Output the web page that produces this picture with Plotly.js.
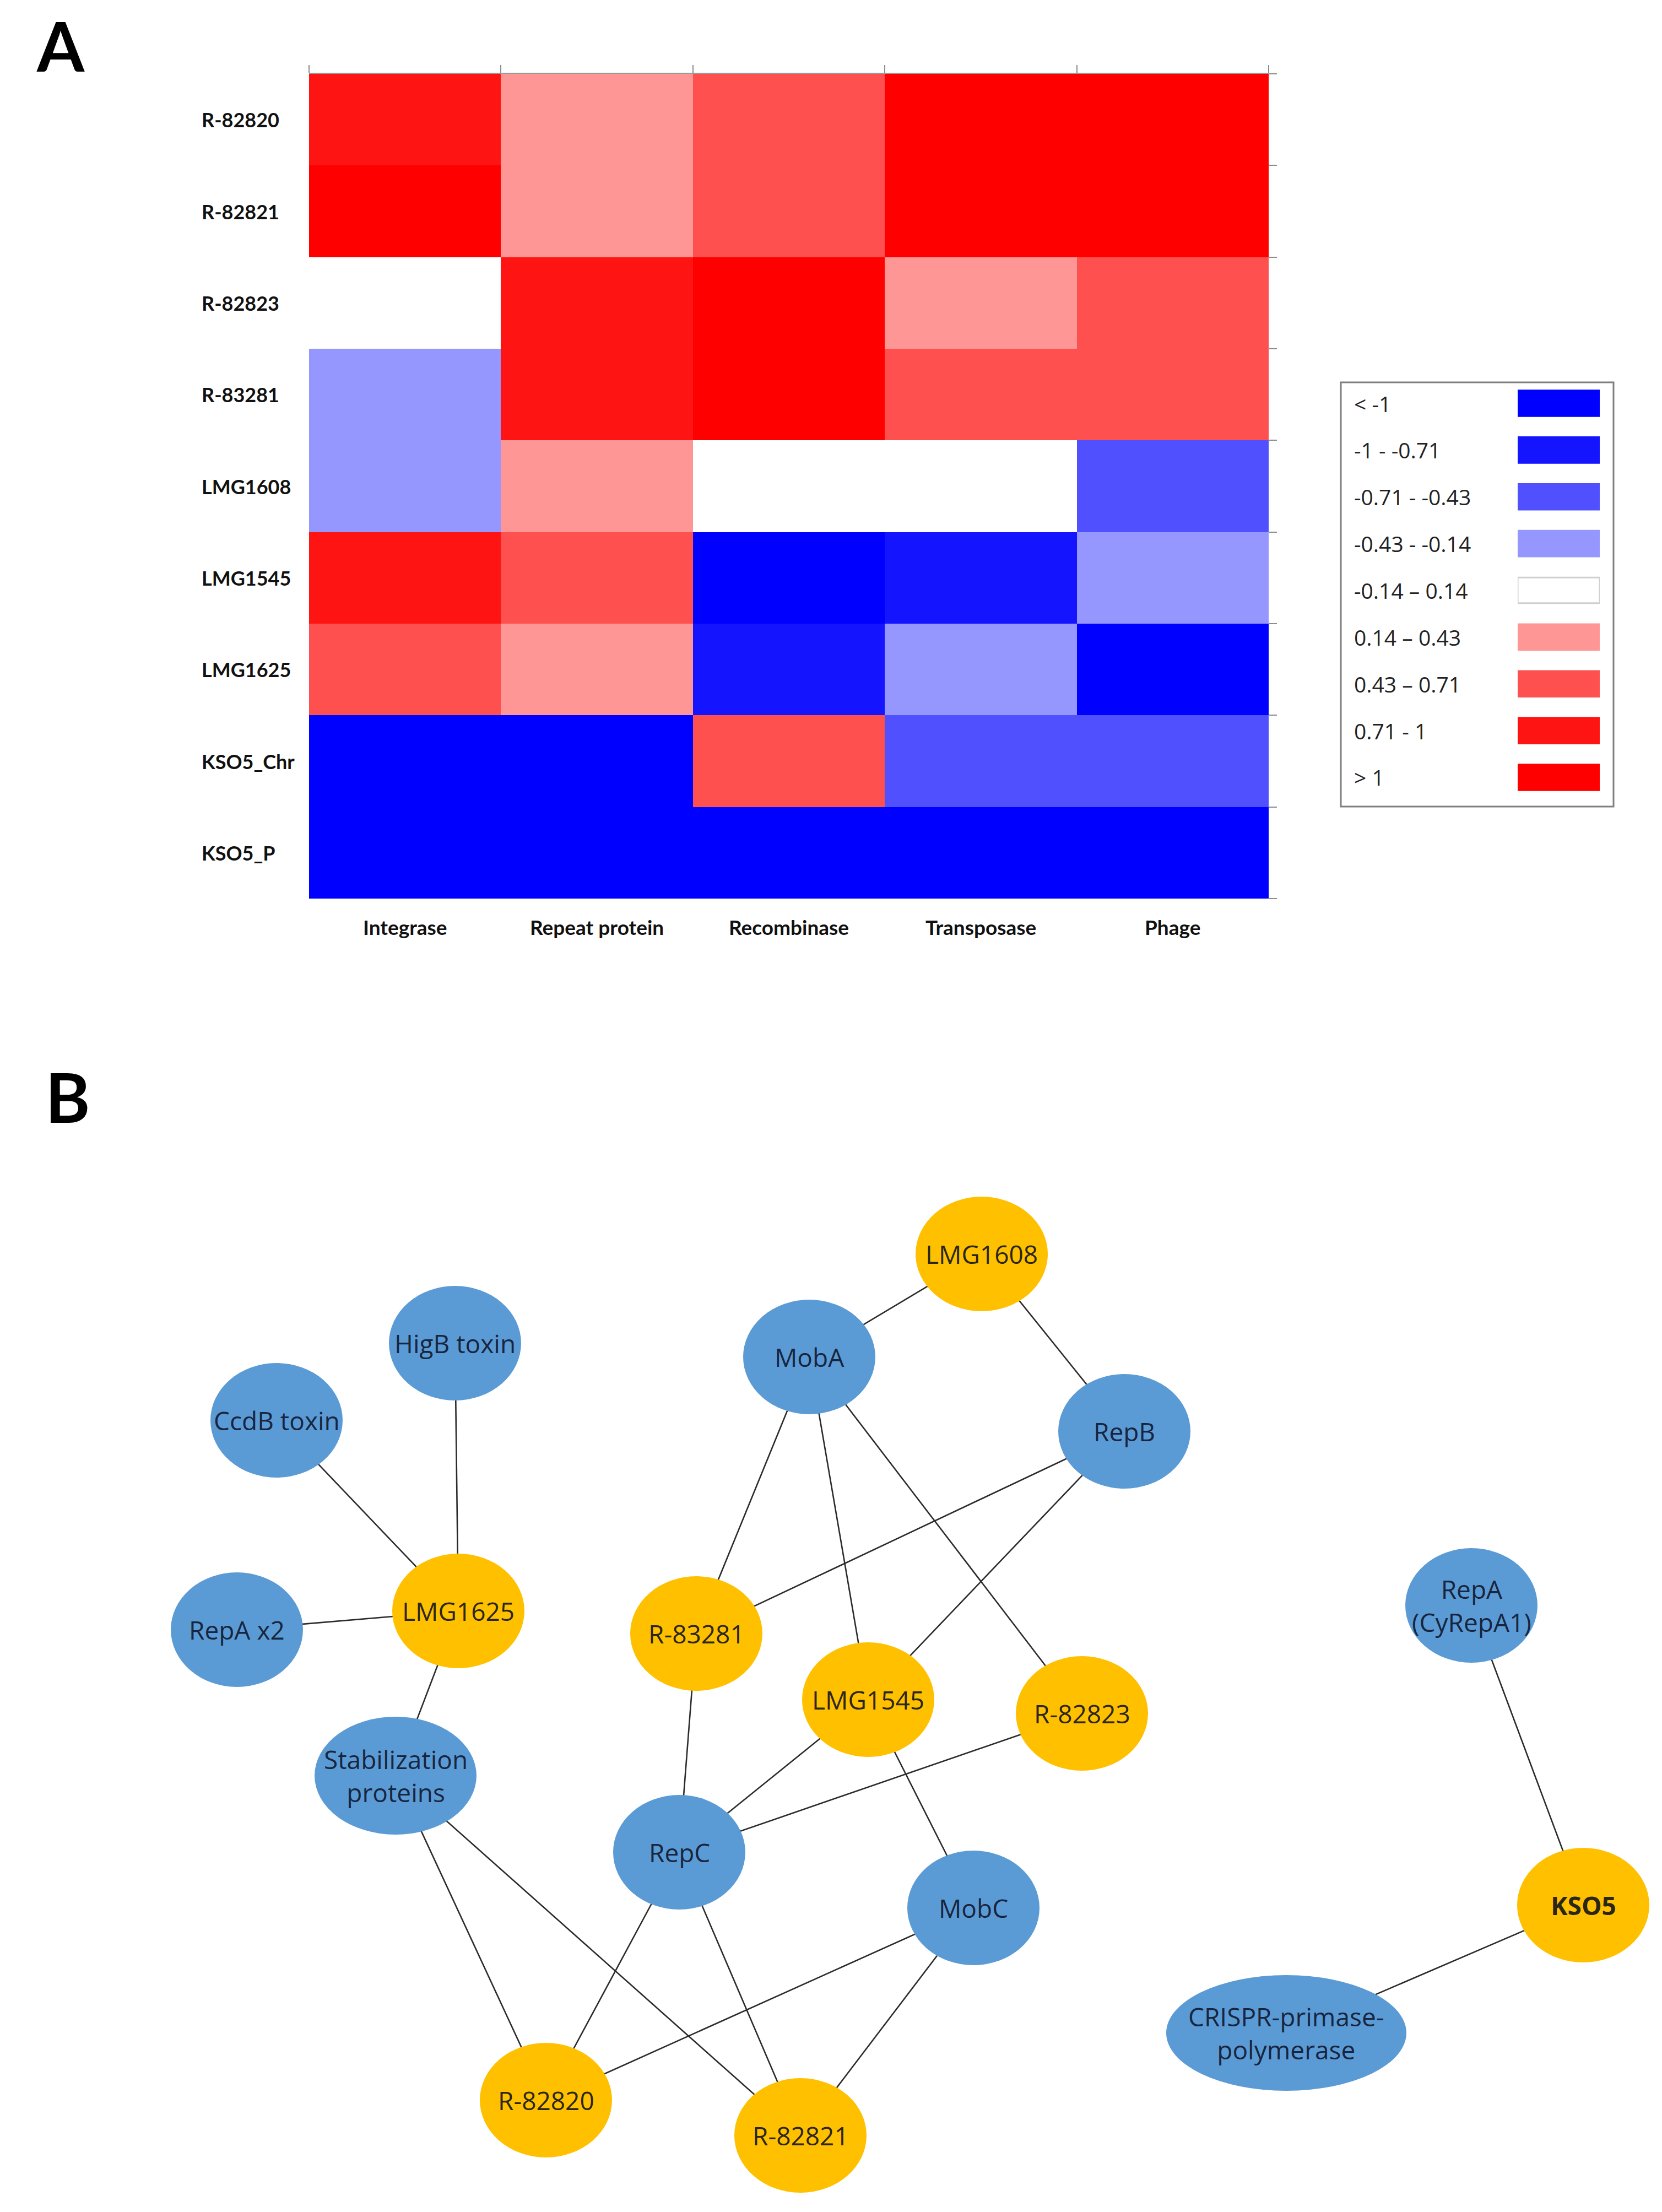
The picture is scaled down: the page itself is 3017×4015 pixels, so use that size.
<!DOCTYPE html>
<html>
<head>
<meta charset="utf-8">
<script src="https://cdn.plot.ly/plotly-3.0.1.min.js"></script>
<style>html,body{margin:0;padding:0;background:#fff;}#chart{width:3017px;height:4015px;}</style>
</head>
<body>
<div id="chart"></div>
<script>
// ---------- Panel A data ----------
const columns = ['Integrase', 'Repeat protein', 'Recombinase', 'Transposase', 'Phage'];
const rows = ['R-82820', 'R-82821', 'R-82823', 'R-83281', 'LMG1608', 'LMG1545', 'LMG1625', 'KSO5_Chr', 'KSO5_P'];
const zR82820 = [0.86, 0.30, 0.60, 1.20, 1.15];
const zR82821 = [1.10, 0.28, 0.55, 1.25, 1.20];
const zR82823 = [0.02, 0.90, 1.10, 0.30, 0.58];
const zR83281 = [-0.30, 0.88, 1.15, 0.55, 0.60];
const zLMG1608 = [-0.32, 0.25, 0.05, -0.03, -0.60];
const zLMG1545 = [0.90, 0.50, -1.10, -0.85, -0.25];
const zLMG1625 = [0.60, 0.30, -0.80, -0.30, -1.20];
const zKSO5Chr = [-1.30, -1.25, 0.50, -0.55, -0.60];
const zKSO5P = [-1.40, -1.35, -1.30, -1.30, -1.35];

const binEdges = [-1, -0.71, -0.43, -0.14, 0.14, 0.43, 0.71, 1];
const binLabels = ['< -1', '-1 - -0.71', '-0.71 - -0.43', '-0.43 - -0.14', '-0.14 \u2013 0.14', '0.14 \u2013 0.43', '0.43 \u2013 0.71', '0.71 - 1', '> 1'];
const binColors = ['#0000FF', '#1414FF', '#5050FF', '#9696FF', '#FFFFFF', '#FF9696', '#FF5050', '#FF1414', '#FF0000'];

// ---------- Panel B data ----------
const nodeNames = ['HigB toxin', 'CcdB toxin', 'RepA x2', 'LMG1625', 'Stabilization proteins', 'MobA', 'LMG1608', 'RepB',
  'R-83281', 'LMG1545', 'R-82823', 'RepC', 'MobC', 'R-82820', 'R-82821', 'RepA (CyRepA1)', 'KSO5', 'CRISPR-primase-polymerase'];
const nodeLabels = ['HigB toxin', 'CcdB toxin', 'RepA x2', 'LMG1625', 'Stabilization<br>proteins', 'MobA', 'LMG1608', 'RepB',
  'R-83281', 'LMG1545', 'R-82823', 'RepC', 'MobC', 'R-82820', 'R-82821', 'RepA<br>(CyRepA1)', '<b>KSO5</b>', 'CRISPR-primase-<br>polymerase'];
const nodeKinds = ['protein', 'protein', 'protein', 'genome', 'protein', 'protein', 'genome', 'protein',
  'genome', 'genome', 'genome', 'protein', 'protein', 'genome', 'genome', 'protein', 'genome', 'protein'];
const nodeX = [826, 502, 430, 832, 718, 1469, 1782, 2041, 1264, 1576, 1964, 1233, 1767, 991, 1453, 2671, 2874, 2335];
const nodeY = [2438, 2578, 2958, 2924, 3223, 2463, 2276, 2598, 2965, 3085, 3110, 3362, 3463, 3812, 3876, 2914, 3458, 3690];
const edgeFrom = ['CcdB toxin', 'HigB toxin', 'RepA x2', 'LMG1625', 'MobA', 'LMG1608', 'MobA', 'MobA', 'MobA', 'RepB', 'RepB',
  'R-83281', 'LMG1545', 'R-82823', 'LMG1545', 'Stabilization proteins', 'Stabilization proteins', 'RepC', 'RepC', 'MobC', 'MobC',
  'RepA (CyRepA1)', 'KSO5'];
const edgeTo = ['LMG1625', 'LMG1625', 'LMG1625', 'Stabilization proteins', 'LMG1608', 'RepB', 'R-83281', 'LMG1545', 'R-82823', 'R-83281', 'LMG1545',
  'RepC', 'RepC', 'RepC', 'MobC', 'R-82820', 'R-82821', 'R-82820', 'R-82821', 'R-82820', 'R-82821',
  'KSO5', 'CRISPR-primase-polymerase'];

// ---------- build ----------
const W = 3017, H = 4015;
const px = v => v / W;
const py = v => 1 - v / H;

const zMin = -1.5, zMax = 1.5;
const norm = v => (v - zMin) / (zMax - zMin);
const colorscale = [];
binColors.forEach((c, i) => {
  const lo = i === 0 ? 0 : norm(binEdges[i - 1]);
  const hi = i === binColors.length - 1 ? 1 : norm(binEdges[i]);
  colorscale.push([lo, c]);
  colorscale.push([hi, c]);
});

const zMatrix = [zR82820, zR82821, zR82823, zR83281, zLMG1608, zLMG1545, zLMG1625, zKSO5Chr, zKSO5P];

const heat = {
  type: 'heatmap', x: columns, y: rows, z: zMatrix,
  colorscale: colorscale, zmin: zMin, zmax: zMax, showscale: false,
  xaxis: 'x', yaxis: 'y', hoverinfo: 'skip'
};

const legendBars = {
  type: 'bar', orientation: 'h', y: binLabels, x: binLabels.map(() => 1), base: 0,
  width: 0.55,
  marker: {
    color: binColors,
    line: { color: binColors.map(c => c === '#FFFFFF' ? '#CFCFCF' : c), width: 3 }
  },
  xaxis: 'x3', yaxis: 'y3', hoverinfo: 'skip', showlegend: false
};

const idx = {};
nodeNames.forEach((n, i) => idx[n] = i);
const ex = [], ey = [];
edgeFrom.forEach((a, k) => {
  const b = edgeTo[k];
  ex.push(nodeX[idx[a]], nodeX[idx[b]], null);
  ey.push(nodeY[idx[a]], nodeY[idx[b]], null);
});
const edges = {
  type: 'scatter', mode: 'lines', x: ex, y: ey,
  line: { color: '#2b2b2b', width: 2.6 },
  xaxis: 'x2', yaxis: 'y2', hoverinfo: 'skip', showlegend: false
};

const kindFill = { protein: '#5B9BD5', genome: '#FFC000' };
const kindText = { protein: '#18253F', genome: '#2A2618' };
function radii(name) {
  if (name === 'Stabilization proteins') return [147, 107];
  if (name === 'CRISPR-primase-polymerase') return [218, 105];
  return [120, 104];
}

const shapes = [];
const annotations = [];
nodeNames.forEach((n, i) => {
  const [rx, ry] = radii(n);
  shapes.push({
    type: 'circle', xref: 'x2', yref: 'y2', layer: 'above',
    x0: nodeX[i] - rx, x1: nodeX[i] + rx, y0: nodeY[i] - ry, y1: nodeY[i] + ry,
    fillcolor: kindFill[nodeKinds[i]], line: { width: 0 }
  });
  annotations.push({
    xref: 'x2', yref: 'y2', x: nodeX[i], y: nodeY[i], text: nodeLabels[i], showarrow: false,
    xanchor: 'center', yanchor: 'middle',
    font: { family: 'Open Sans', size: 46, color: kindText[nodeKinds[i]] }
  });
});

// legend box
shapes.push({
  type: 'rect', xref: 'paper', yref: 'paper',
  x0: px(2434), x1: px(2929), y0: py(1464), y1: py(694),
  line: { color: '#7F7F7F', width: 3 }, fillcolor: 'rgba(0,0,0,0)', layer: 'below'
});

// row labels
rows.forEach(r => annotations.push({
  xref: 'paper', yref: 'y', x: px(364), y: r, text: '<b>' + r + '</b>', showarrow: false,
  xanchor: 'left', yanchor: 'middle', font: { family: 'Lato', size: 36, color: '#111' }
}));
// column labels
columns.forEach(c => annotations.push({
  xref: 'x', yref: 'paper', x: c, y: py(1683), text: '<b>' + c + '</b>', showarrow: false,
  xanchor: 'center', yanchor: 'middle', font: { family: 'Lato', size: 37, color: '#111' }
}));
// legend labels
binLabels.forEach(l => annotations.push({
  xref: 'paper', yref: 'y3', x: px(2456), y: l, text: l, showarrow: false,
  xanchor: 'left', yanchor: 'middle', font: { family: 'Open Sans', size: 39, color: '#222' }
}));
// panel letters
annotations.push({ xref: 'paper', yref: 'paper', x: px(64), y: py(6), text: '<b>A</b>', showarrow: false,
  xanchor: 'left', yanchor: 'top', font: { family: 'Lato', size: 124, color: '#000' } });
annotations.push({ xref: 'paper', yref: 'paper', x: px(80), y: py(1914), text: '<b>B</b>', showarrow: false,
  xanchor: 'left', yanchor: 'top', font: { family: 'Lato', size: 124, color: '#000' } });

const boundsX = columns.map((c, i) => i - 0.5).concat([columns.length - 0.5]);
const boundsY = rows.map((r, i) => i - 0.5).concat([rows.length - 0.5]);

const layout = {
  width: W, height: H, margin: { l: 0, r: 0, t: 0, b: 0 },
  paper_bgcolor: '#FFFFFF', plot_bgcolor: 'rgba(0,0,0,0)', showlegend: false,
  xaxis: {
    domain: [px(561), px(2303)], anchor: 'y', type: 'category', side: 'top',
    range: [-0.5, columns.length - 0.5],
    tickmode: 'array', tickvals: boundsX, ticktext: boundsX.map(() => ''),
    ticks: 'outside', ticklen: 14, tickwidth: 2, tickcolor: '#8C8C8C',
    showline: true, linecolor: '#9A9A9A', linewidth: 2,
    showgrid: false, zeroline: false, showticklabels: false
  },
  yaxis: {
    domain: [py(1631), py(134)], anchor: 'x', type: 'category', side: 'right',
    range: [rows.length - 0.5, -0.5],
    tickmode: 'array', tickvals: boundsY, ticktext: boundsY.map(() => ''),
    ticks: 'outside', ticklen: 14, tickwidth: 2, tickcolor: '#8C8C8C',
    showline: false, showgrid: false, zeroline: false, showticklabels: false
  },
  xaxis2: { domain: [0, 1], anchor: 'y2', range: [0, W], visible: false, fixedrange: true },
  yaxis2: { domain: [0, py(1850)], anchor: 'x2', range: [H, 1850], visible: false, fixedrange: true },
  xaxis3: { domain: [px(2755), px(2904)], anchor: 'y3', range: [0, 1], visible: false },
  yaxis3: { domain: [py(1453.4), py(689.6)], anchor: 'x3', type: 'category', range: [binLabels.length - 0.5, -0.5], visible: false },
  shapes: shapes,
  annotations: annotations
};

Plotly.newPlot('chart', [heat, legendBars, edges], layout, { displayModeBar: false, staticPlot: true });
</script>
</body>
</html>
